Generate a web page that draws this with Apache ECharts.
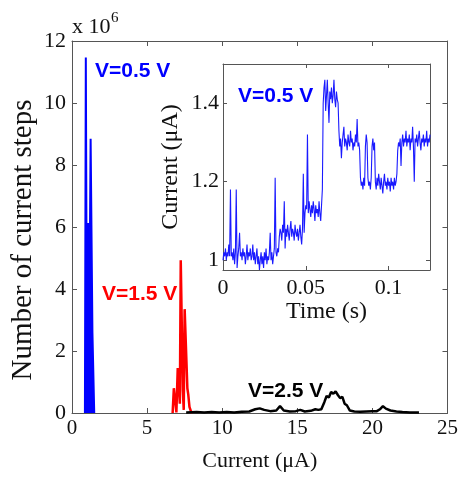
<!DOCTYPE html>
<html>
<head>
<meta charset="utf-8">
<script src="https://cdn.jsdelivr.net/npm/echarts/dist/echarts.min.js"></script>
<style>
  html, body { margin: 0; padding: 0; background: #fff; }
  #chart { width: 461px; height: 477px; }
</style>
</head>
<body>
<div id="chart"></div>
<script>
// Histogram of step currents (x: current in µA, y: number of steps in units of 1e6)
const blueCurrent = [0.86, 0.92, 0.96, 1.20, 1.24, 1.32, 1.36, 1.44, 1.48];
const blueCount   = [0,    11.47, 6.1, 6.1,  8.85, 8.85, 2.6,  2.6,  0];

const redCurrent = [6.70, 6.78, 6.86, 6.95, 7.04, 7.12, 7.18, 7.24, 7.32, 7.38, 7.44, 7.50, 7.60, 7.68, 7.74, 7.82, 7.92, 8.02];
const redCount   = [0,    0.80, 0.78, 0.02, 1.45, 1.44, 0.30, 4.93, 4.90, 0.70, 0.10, 3.35, 3.30, 0.80, 0.60, 0.20, 0.05, 0];

const blackCurrent = [7.6, 8.3, 8.8, 9.3, 9.8, 10.3, 10.8, 11.3, 11.8, 12.2, 12.5, 12.8, 13.2, 13.6, 13.85, 14.1, 14.5, 14.9, 15.2, 15.5, 15.9, 16.2, 16.4, 16.6, 16.8, 16.95, 17.1, 17.25, 17.4, 17.55, 17.7, 17.85, 18.0, 18.15, 18.3, 18.5, 18.8, 19.2, 19.6, 20.0, 20.3, 20.5, 20.7, 20.9, 21.2, 21.6, 22.0, 22.5, 23.1];
const blackCount   = [0.02, 0.03, 0.02, 0.03, 0.02, 0.03, 0.02, 0.04, 0.05, 0.12, 0.15, 0.10, 0.06, 0.08, 0.22, 0.08, 0.05, 0.06, 0.10, 0.05, 0.07, 0.12, 0.10, 0.12, 0.35, 0.55, 0.50, 0.68, 0.62, 0.70, 0.58, 0.48, 0.52, 0.30, 0.25, 0.08, 0.05, 0.04, 0.05, 0.06, 0.06, 0.12, 0.22, 0.14, 0.08, 0.05, 0.03, 0.02, 0.02];

const mainXTicks = [0, 5, 10, 15, 20, 25];
const mainYTicks = [0, 2, 4, 6, 8, 10, 12];

// Inset: current trace at V = 0.5 V, sampled every 0.5 ms
const traceStep = 0.0005;
const traceCurrent = [
  1.00, 1.02, 1.01, 1.03, 1.00, 1.02, 1.01, 1.04, 1.01, 1.18,
  1.01, 1.02, 1.00, 1.03, 0.99, 1.02, 1.18, 0.98, 1.01, 1.03,
  1.07, 1.01, 1.02, 1.00, 1.03, 1.01, 1.02, 0.99, 1.01, 1.04,
  1.00, 1.02, 1.01, 1.03, 1.00, 1.01, 1.04, 1.00, 1.02, 0.99,
  1.01, 1.03, 0.99, 1.01, 0.975, 1.00, 1.02, 0.99, 1.01, 0.98,
  1.02, 1.00, 1.03, 0.99, 1.01, 1.00, 1.02, 1.07, 1.00, 1.02,
  0.99, 1.01, 1.03, 1.21, 1.02, 1.01, 1.03, 1.02, 1.06, 1.08,
  1.07, 1.05, 1.09, 1.07, 1.15, 1.03, 1.08, 1.06, 1.09, 1.07,
  1.05, 1.08, 1.10, 1.06, 1.08, 1.07, 1.05, 1.09, 1.07, 1.06,
  1.08, 1.05, 1.07, 1.09, 1.06, 1.04, 1.08, 1.22, 1.07, 1.12,
  1.14, 1.13, 1.32, 1.12, 1.15, 1.13, 1.11, 1.14, 1.12, 1.15,
  1.13, 1.10, 1.14, 1.12, 1.13, 1.11, 1.15, 1.12, 1.10, 1.14,
  1.18, 1.40, 1.44, 1.46, 1.38, 1.42, 1.46, 1.40, 1.35, 1.43,
  1.41, 1.44, 1.40, 1.42, 1.46, 1.41, 1.39, 1.43, 1.41, 1.40,
  1.33, 1.29, 1.31, 1.26, 1.30, 1.32, 1.34, 1.29, 1.31, 1.30,
  1.28, 1.32, 1.30, 1.29, 1.33, 1.30, 1.31, 1.28, 1.30, 1.29,
  1.32, 1.30, 1.36, 1.29, 1.30, 1.28, 1.21, 1.19, 1.20, 1.18,
  1.21, 1.19, 1.29, 1.32, 1.30, 1.21, 1.19, 1.20, 1.18, 1.21,
  1.29, 1.31, 1.28, 1.30, 1.20, 1.18, 1.21, 1.19, 1.22, 1.20,
  1.18, 1.21, 1.19, 1.17, 1.20, 1.22, 1.19, 1.20, 1.18, 1.21,
  1.19, 1.20, 1.175, 1.21, 1.19, 1.20, 1.18, 1.21, 1.19, 1.20,
  1.22, 1.28, 1.30, 1.29, 1.31, 1.24, 1.30, 1.32, 1.29, 1.31,
  1.30, 1.33, 1.29, 1.31, 1.30, 1.32, 1.28, 1.31, 1.30, 1.34,
  1.29, 1.20, 1.31, 1.30, 1.32, 1.29, 1.31, 1.33, 1.30, 1.28,
  1.31, 1.30, 1.32, 1.29, 1.31, 1.30, 1.33, 1.29, 1.31, 1.30,
  1.32
];
const insetXTicks = [0, 0.05, 0.1];
const insetYTicks = [1, 1.2, 1.4];

const pairs = (xs, ys) => xs.map((x, i) => [x, ys[i]]);
const traceData = traceCurrent.map((v, i) => [i * traceStep, v]);

const SERIF = '"Liberation Serif", "Times New Roman", serif';
const SANS = '"Liberation Sans", Arial, sans-serif';
const AXIS_COLOR = '#555';
const TEXT_COLOR = '#111';

const mirrorAxis = (extra) => Object.assign({
  type: 'value',
  axisLine: { show: true, onZero: false, lineStyle: { color: AXIS_COLOR, width: 1 } },
  axisTick: { show: true, inside: true, length: 5, lineStyle: { color: AXIS_COLOR } },
  axisLabel: { show: false },
  splitLine: { show: false }
}, extra);

const chart = echarts.init(document.getElementById('chart'), null, { renderer: 'canvas' });

chart.setOption({
  animation: false,
  backgroundColor: '#fff',
  grid: [
    { left: 72, top: 41, width: 376, height: 376, show: false },
    { left: 223, top: 64, width: 207, height: 206, show: true, backgroundColor: '#fff', borderWidth: 0, z: 5 }
  ],
  xAxis: [
    {
      type: 'value', gridIndex: 0, min: 0, max: 25, interval: 5, position: 'bottom',
      name: 'Current (\u03bcA)', nameLocation: 'middle', nameGap: 37,
      nameTextStyle: { fontFamily: SERIF, fontSize: 22, color: TEXT_COLOR },
      axisLine: { show: true, onZero: false, lineStyle: { color: AXIS_COLOR } },
      axisTick: { show: true, inside: true, length: 5, lineStyle: { color: AXIS_COLOR }, customValues: mainXTicks },
      axisLabel: { fontFamily: SERIF, fontSize: 21, color: TEXT_COLOR, margin: 5, customValues: mainXTicks },
      splitLine: { show: false }
    },
    mirrorAxis({ gridIndex: 0, min: 0, max: 25, interval: 5, position: 'top' }),
    {
      type: 'value', gridIndex: 1, min: 0, max: 0.125, interval: 0.05, position: 'bottom',
      name: 'Time (s)', nameLocation: 'middle', nameGap: 28,
      nameTextStyle: { fontFamily: SERIF, fontSize: 24, color: TEXT_COLOR },
      axisLine: { show: true, onZero: false, lineStyle: { color: AXIS_COLOR } },
      axisTick: { show: true, inside: true, length: 4, lineStyle: { color: AXIS_COLOR }, customValues: insetXTicks },
      axisLabel: { fontFamily: SERIF, fontSize: 22, color: TEXT_COLOR, margin: 7, customValues: insetXTicks },
      splitLine: { show: false }, z: 6
    },
    mirrorAxis({ gridIndex: 1, min: 0, max: 0.125, interval: 0.05, position: 'top', axisTick: { show: true, inside: true, length: 4, lineStyle: { color: AXIS_COLOR }, customValues: insetXTicks }, z: 6 })
  ],
  yAxis: [
    {
      type: 'value', gridIndex: 0, min: 0, max: 12, interval: 2, position: 'left',
      axisLine: { show: true, onZero: false, lineStyle: { color: AXIS_COLOR } },
      axisTick: { show: true, inside: true, length: 5, lineStyle: { color: AXIS_COLOR }, customValues: mainYTicks },
      axisLabel: { fontFamily: SERIF, fontSize: 22, color: TEXT_COLOR, margin: 6, customValues: mainYTicks },
      splitLine: { show: false }
    },
    mirrorAxis({ gridIndex: 0, min: 0, max: 12, interval: 2, position: 'right' }),
    {
      type: 'value', gridIndex: 1, min: 0.975, max: 1.5, position: 'left',
      name: 'Current (\u03bcA)', nameLocation: 'middle', nameGap: 40,
      nameTextStyle: { fontFamily: SERIF, fontSize: 24, color: TEXT_COLOR },
      axisLine: { show: true, onZero: false, lineStyle: { color: AXIS_COLOR } },
      axisTick: { show: true, inside: true, length: 4, lineStyle: { color: AXIS_COLOR }, customValues: insetYTicks },
      axisLabel: { fontFamily: SERIF, fontSize: 22, color: TEXT_COLOR, margin: 4, customValues: insetYTicks },
      splitLine: { show: false }, z: 6
    },
    mirrorAxis({ gridIndex: 1, min: 0.975, max: 1.5, position: 'right', axisTick: { show: true, inside: true, length: 4, lineStyle: { color: AXIS_COLOR }, customValues: insetYTicks }, z: 6 })
  ],
  series: [
    {
      name: 'V=0.5 V', type: 'line', xAxisIndex: 0, yAxisIndex: 0,
      data: pairs(blueCurrent, blueCount), showSymbol: false,
      lineStyle: { color: '#0000ff', width: 2 },
      areaStyle: { color: '#0000ff', opacity: 1 }, z: 2
    },
    {
      name: 'V=1.5 V', type: 'line', xAxisIndex: 0, yAxisIndex: 0,
      data: pairs(redCurrent, redCount), showSymbol: false,
      lineStyle: { color: '#ff0000', width: 2.5 }, z: 2
    },
    {
      name: 'V=2.5 V', type: 'line', xAxisIndex: 0, yAxisIndex: 0,
      data: pairs(blackCurrent, blackCount), showSymbol: false,
      lineStyle: { color: '#000', width: 2.5 }, z: 3
    },
    {
      name: 'trace', type: 'line', xAxisIndex: 2, yAxisIndex: 2,
      data: traceData, showSymbol: false,
      lineStyle: { color: '#1a1aff', width: 1.1 }, z: 7
    }
  ],
  graphic: [
    { type: 'text', x: 23, y: 240, rotation: Math.PI / 2, z: 10,
      style: { text: 'Number of current steps', font: '29px ' + SERIF, fill: TEXT_COLOR, align: 'center', verticalAlign: 'middle' } },
    { type: 'text', left: 72, top: 16, z: 10, style: { text: 'x 10', font: '22px ' + SERIF, fill: TEXT_COLOR } },
    { type: 'text', left: 111, top: 11, z: 10, style: { text: '6', font: '15px ' + SERIF, fill: TEXT_COLOR } },
    { type: 'text', left: 95, top: 61, z: 10, style: { text: 'V=0.5 V', font: 'bold 21px ' + SANS, fill: '#0000ff' } },
    { type: 'text', left: 102, top: 284, z: 10, style: { text: 'V=1.5 V', font: 'bold 21px ' + SANS, fill: '#ff0000' } },
    { type: 'text', left: 248, top: 381, z: 10, style: { text: 'V=2.5 V', font: 'bold 21px ' + SANS, fill: '#000' } },
    { type: 'text', left: 238, top: 86, z: 10, style: { text: 'V=0.5 V', font: 'bold 21px ' + SANS, fill: '#0000ff' } }
  ]
});
</script>
</body>
</html>
